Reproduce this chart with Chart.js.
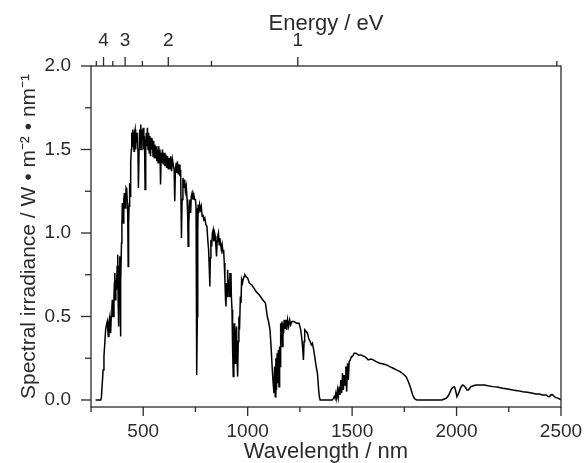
<!DOCTYPE html>
<html>
<head>
<meta charset="utf-8">
<script src="https://cdn.jsdelivr.net/npm/chart.js@4.4.0/dist/chart.umd.min.js"></script>
<style>
  html, body { margin: 0; padding: 0; background: #fff; }
</style>
</head>
<body>
<canvas id="chart" width="585" height="463"></canvas>
<script>
// spectrum (nm, W m^-2 nm^-1)
const wavelengths = [
  272, 280, 290, 297, 300, 304, 308, 312, 316, 320, 324, 328, 331, 333, 336, 340, 342, 344, 347, 350,
  352, 355, 357, 360, 362, 364, 367, 369, 372, 375, 378, 380, 381, 384, 386, 388, 390, 391, 393, 396,
  398, 400, 402, 405, 407, 410, 413, 416, 418, 421, 424, 426, 428, 430, 432, 435, 438, 440, 443, 445,
  448, 450, 453, 456, 458, 461, 464, 467, 470, 472, 475, 477, 480, 483, 486, 488, 491, 494, 497, 500,
  503, 506, 509, 512, 515, 518, 520, 523, 526, 529, 532, 535, 538, 541, 544, 547, 550, 553, 556, 559,
  562, 565, 568, 571, 574, 577, 580, 583, 586, 589, 592, 596, 600, 604, 608, 612, 616, 620, 624, 628,
  632, 636, 640, 645, 648, 651, 654, 658, 661, 664, 668, 672, 676, 679, 683, 686, 690, 694, 698, 702,
  706, 710, 713, 715, 718, 721, 724, 727, 730, 734, 738, 742, 746, 750, 753, 755, 757, 759, 761, 763,
  766, 770, 774, 778, 782, 786, 790, 795, 800, 805, 809, 813, 816, 819, 821, 824, 828, 831, 835, 838,
  842, 845, 848, 851, 854, 857, 860, 864, 867, 870, 874, 878, 882, 885, 888, 891, 894, 896, 899, 902,
  904, 907, 910, 912, 915, 918, 920, 922, 925, 928, 931, 934, 936, 938, 941, 944, 947, 949, 952, 955,
  958, 961, 965, 968, 971, 975, 978, 983, 987, 992, 1000, 1008, 1019, 1030, 1040, 1055, 1072, 1085, 1094, 1100,
  1107, 1112, 1118, 1122, 1126, 1129, 1132, 1135, 1138, 1141, 1144, 1147, 1150, 1153, 1156, 1158, 1161, 1164, 1166, 1169,
  1172, 1175, 1179, 1183, 1187, 1191, 1196, 1201, 1206, 1212, 1222, 1234, 1246, 1254, 1260, 1264, 1267, 1270, 1273, 1280,
  1286, 1292, 1299, 1305, 1310, 1316, 1321, 1328, 1334, 1340, 1343, 1347, 1360, 1380, 1405, 1410, 1414, 1418, 1422, 1426,
  1430, 1434, 1438, 1442, 1446, 1450, 1454, 1458, 1462, 1466, 1470, 1474, 1478, 1482, 1486, 1491, 1497, 1502, 1510, 1518,
  1530, 1542, 1550, 1561, 1570, 1577, 1590, 1601, 1615, 1633, 1650, 1665, 1680, 1697, 1712, 1729, 1740, 1750, 1758, 1766,
  1772, 1777, 1784, 1790, 1797, 1803, 1810, 1850, 1900, 1930, 1950, 1958, 1966, 1975, 1982, 1990, 1995, 2002, 2008, 2013,
  2020, 2029, 2036, 2042, 2050, 2057, 2063, 2069, 2080, 2093, 2110, 2133, 2150, 2173, 2195, 2221, 2245, 2269, 2290, 2317,
  2340, 2365, 2380, 2397, 2410, 2429, 2437, 2445, 2453, 2461, 2470, 2477, 2488, 2500
];
const irradiance = [
  0, 0, 0, 0, 0.02, 0.1, 0.18, 0.26, 0.34, 0.42, 0.45, 0.47, 0.41, 0.38, 0.47, 0.5, 0.43, 0.4, 0.5, 0.55,
  0.6, 0.52, 0.5, 0.62, 0.7, 0.76, 0.6, 0.72, 0.66, 0.8, 0.87, 0.6, 0.44, 0.7, 0.8, 0.86, 0.55, 0.38, 0.7, 0.94,
  1.05, 1.18, 1.12, 1.06, 1.2, 1.24, 1.15, 1.2, 1.27, 1.26, 1.18, 1.1, 0.8, 1.05, 1.16, 1.3, 1.22, 1.42, 1.5, 1.6,
  1.52, 1.62, 1.56, 1.49, 1.6, 1.62, 1.5, 1.6, 1.54, 1.6, 1.48, 1.27, 1.5, 1.62, 1.55, 1.65, 1.5, 1.62, 1.56, 1.63,
  1.5, 1.58, 1.26, 1.5, 1.6, 1.52, 1.63, 1.5, 1.6, 1.48, 1.58, 1.46, 1.57, 1.5, 1.56, 1.46, 1.55, 1.45, 1.53, 1.45,
  1.52, 1.43, 1.5, 1.42, 1.52, 1.46, 1.5, 1.29, 1.48, 1.42, 1.5, 1.41, 1.48, 1.4, 1.47, 1.39, 1.46, 1.38, 1.45, 1.38,
  1.46, 1.37, 1.44, 1.4, 1.38, 1.19, 1.38, 1.42, 1.36, 1.43, 1.35, 1.41, 1.34, 1.38, 0.97, 1.2, 1.33, 1.27, 1.32, 1.25,
  1.28, 1.2, 1.1, 0.92, 1.05, 1.16, 1.2, 1.12, 1.22, 1.24, 1.2, 1.23, 1.2, 1.2, 1.15, 0.6, 0.15, 0.5, 1.0, 1.17,
  1.12, 1.17, 1.14, 1.16, 1.1, 1.11, 1.08, 1.09, 1.05, 1.04, 0.96, 0.9, 0.8, 0.68, 0.85, 0.96, 0.92, 1.0, 1.02, 0.95,
  1.0, 0.98, 0.92, 0.86, 0.95, 0.98, 1.0, 0.93, 0.97, 0.94, 0.9, 0.93, 0.88, 0.9, 0.82, 0.72, 0.6, 0.56, 0.7, 0.62,
  0.78, 0.68, 0.72, 0.62, 0.76, 0.7, 0.76, 0.62, 0.54, 0.3, 0.14, 0.35, 0.46, 0.3, 0.22, 0.4, 0.44, 0.25, 0.14, 0.35,
  0.5, 0.42, 0.62, 0.58, 0.72, 0.7, 0.72, 0.74, 0.75, 0.74, 0.73, 0.7, 0.69, 0.67, 0.65, 0.63, 0.6, 0.58, 0.5, 0.47,
  0.42, 0.32, 0.18, 0.1, 0.04, 0.2, 0.02, 0.25, 0.06, 0.28, 0.1, 0.3, 0.08, 0.32, 0.2, 0.46, 0.38, 0.47, 0.32, 0.46,
  0.4, 0.48, 0.43, 0.48, 0.42, 0.48, 0.44, 0.48, 0.45, 0.47, 0.47, 0.46, 0.46, 0.42, 0.36, 0.3, 0.24, 0.35, 0.42, 0.41,
  0.4, 0.37, 0.35, 0.33, 0.34, 0.3, 0.26, 0.2, 0.16, 0.06, 0.02, 0, 0, 0, 0, 0.01, 0.02, 0.01, 0.04, 0.01,
  0.06, 0.02, 0.08, 0.03, 0.12, 0.04, 0.16, 0.06, 0.15, 0.09, 0.2, 0.05, 0.22, 0.12, 0.23, 0.24, 0.26, 0.26, 0.28, 0.28,
  0.27, 0.27, 0.265, 0.26, 0.25, 0.24, 0.245, 0.24, 0.23, 0.22, 0.215, 0.21, 0.2, 0.19, 0.18, 0.17, 0.16, 0.15, 0.14, 0.12,
  0.1, 0.084, 0.055, 0.03, 0.012, 0.004, 0, 0, 0, 0, 0.01, 0.02, 0.04, 0.065, 0.076, 0.08, 0.06, 0.02, 0.035, 0.05,
  0.075, 0.09, 0.085, 0.076, 0.06, 0.06, 0.07, 0.08, 0.085, 0.09, 0.09, 0.09, 0.085, 0.08, 0.078, 0.07, 0.066, 0.06, 0.056, 0.05,
  0.046, 0.04, 0.036, 0.036, 0.03, 0.03, 0.022, 0.02, 0.032, 0.03, 0.018, 0.014, 0.01, 0
];

const nmTicks = [500, 1000, 1500, 2000, 2500];
const nmMinorTicks = [250, 750, 1250, 1750, 2250];
const yTicks = [0, 0.5, 1.0, 1.5, 2.0];
const yMinorTicks = [0.25, 0.75, 1.25, 1.75];
const energyTicks = [4, 3, 2, 1];
const energyMinorTicks = [4.5, 3.5, 2.5, 1.5, 0.5];
const HC = 1240; // nm * eV

const INK = '#2b2b2b';
const FAMILY = 'Liberation Sans, Arial, sans-serif';
const tickFont = { family: FAMILY, size: 19 };
const titleFont = { family: FAMILY, size: 22 };

// frame + outward ticks, positioned through the scales
const frameTicks = {
  id: 'frameTicks',
  afterDraw(chart) {
    const ctx = chart.ctx;
    const a = chart.chartArea;
    const sx = chart.scales.x, sy = chart.scales.y, st = chart.scales.x2;
    ctx.save();
    ctx.strokeStyle = INK;
    ctx.lineWidth = 1.3;
    ctx.strokeRect(a.left, a.top, a.right - a.left, a.bottom - a.top);

    function line(x1, y1, x2, y2) {
      ctx.beginPath();
      ctx.moveTo(x1, y1);
      ctx.lineTo(x2, y2);
      ctx.stroke();
    }
    nmTicks.forEach(function (v) {
      const x = sx.getPixelForValue(v);
      line(x, a.bottom, x, a.bottom + 9);
    });
    nmMinorTicks.forEach(function (v) {
      const x = sx.getPixelForValue(v);
      line(x, a.bottom, x, a.bottom + 5);
    });
    yTicks.forEach(function (v) {
      const y = sy.getPixelForValue(v);
      line(a.left - 10, y, a.left, y);
    });
    yMinorTicks.forEach(function (v) {
      const y = sy.getPixelForValue(v);
      line(a.left - 6, y, a.left, y);
    });
    energyTicks.forEach(function (e) {
      const x = st.getPixelForValue(HC / e);
      line(x, a.top, x, a.top - 9);
    });
    energyMinorTicks.forEach(function (e) {
      const x = st.getPixelForValue(HC / e);
      line(x, a.top, x, a.top - 5);
    });
    ctx.restore();
  }
};

new Chart(document.getElementById('chart'), {
  type: 'line',
  data: {
    datasets: [{
      data: wavelengths.map(function (w, i) { return { x: w, y: irradiance[i] }; }),
      borderColor: '#000',
      borderWidth: 1.5,
      pointRadius: 0,
      tension: 0,
      fill: false
    }]
  },
  options: {
    responsive: false,
    animation: false,
    layout: { padding: { left: 0, right: 24, top: 0, bottom: 0 } },
    plugins: {
      legend: { display: false },
      tooltip: { enabled: false }
    },
    scales: {
      x: {
        type: 'linear',
        position: 'bottom',
        min: 250,
        max: 2500,
        grid: { display: false, drawTicks: false },
        border: { display: false },
        afterBuildTicks: function (scale) {
          scale.ticks = nmTicks.map(function (v) { return { value: v }; });
        },
        afterFit: function (scale) {
          scale.height = 56;
          scale.paddingLeft = 0;
          scale.paddingRight = 0;
        },
        ticks: {
          color: INK, font: tickFont, padding: 13, maxRotation: 0, autoSkip: false,
          callback: function (value) { return String(value); }
        },
        title: { display: true, text: 'Wavelength / nm', color: INK, font: titleFont, padding: { top: 0, bottom: -2 } }
      },
      x2: {
        type: 'linear',
        position: 'top',
        min: 250,
        max: 2500,
        grid: { display: false, drawTicks: false },
        border: { display: false },
        afterBuildTicks: function (scale) {
          scale.ticks = energyTicks.map(function (e) { return { value: HC / e }; });
        },
        afterFit: function (scale) {
          scale.height = 66;
          scale.paddingLeft = 0;
          scale.paddingRight = 0;
        },
        ticks: {
          color: INK, font: tickFont, padding: 14, maxRotation: 0, autoSkip: false,
          callback: function (value, index) { return String(energyTicks[index]); }
        },
        title: { display: true, text: 'Energy / eV', color: INK, font: titleFont, padding: { top: 11, bottom: 0 } }
      },
      y: {
        type: 'linear',
        min: -0.042,
        max: 2.0,
        grid: { display: false, drawTicks: false },
        border: { display: false },
        afterBuildTicks: function (scale) {
          scale.ticks = yTicks.map(function (v) { return { value: v }; });
        },
        afterFit: function (scale) { scale.width = 91; },
        ticks: {
          color: INK, font: tickFont, padding: 20,
          callback: function (value) { return value.toFixed(1); }
        },
        title: {
          display: true,
          text: 'Spectral irradiance / W \u2022 m\u207B\u00B2 \u2022 nm\u207B\u00B9',
          color: INK, font: { family: FAMILY, size: 21 }, padding: { top: 17, bottom: 0 }
        }
      }
    }
  },
  plugins: [frameTicks]
});
</script>
</body>
</html>
